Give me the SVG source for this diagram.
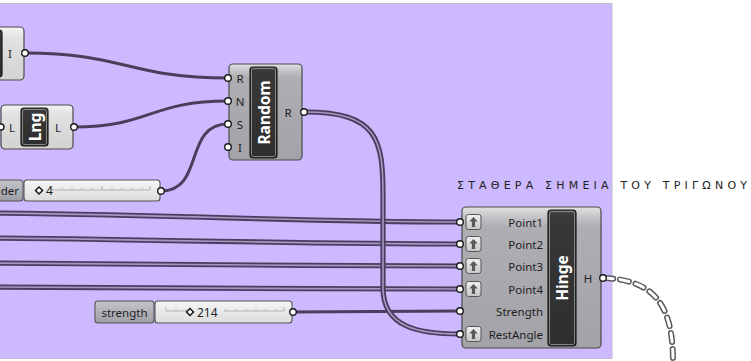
<svg xmlns="http://www.w3.org/2000/svg" width="751" height="361" viewBox="0 0 751 361">
  <style>
    .lbl { font-family: "Noto Sans", "DejaVu Sans", sans-serif; font-size: 11.5px; fill: #1e1e1e; dominant-baseline: central; }
    .ttl { font-family: "Noto Sans", "DejaVu Sans", sans-serif; font-size: 15.5px; font-weight: bold; fill: #ffffff; text-anchor: middle; dominant-baseline: central; }
    .port { fill: #ffffff; stroke: #1a1a1a; stroke-width: 1.4; }
    .wire { fill: none; stroke: #4a3e5c; stroke-width: 3; stroke-linecap: round; }
    .wire2 { fill: none; stroke: #4a3e5c; stroke-width: 5.2; }
    .wire2i { fill: none; stroke: #a596c6; stroke-width: 1.6; }
    .body { fill: url(#gBody); stroke: #4a4a4a; stroke-width: 1.2; }
    .bodyL { fill: url(#gLight); stroke: #4a4a4a; stroke-width: 1.2; }
    .core { fill: url(#gCore); stroke: #1c1c1c; stroke-width: 1.2; }
    .coreHi { fill: none; stroke: #9a9a9a; stroke-width: 0.8; }
    .sl { fill: url(#gSlider); stroke: #555; stroke-width: 1.1; }
    .slTag { fill: url(#gTag); stroke: #555; stroke-width: 1.1; }
    .rail { stroke: #b4b4b4; stroke-width: 1; fill: none; }
    .icon { fill: url(#gIcon); stroke: #555; stroke-width: 1; }
  </style>
  <defs>
    <linearGradient id="gBody" x1="0" y1="0" x2="0" y2="1">
      <stop offset="0" stop-color="#e2e2e4"/>
      <stop offset="0.07" stop-color="#c4c4c8"/>
      <stop offset="0.14" stop-color="#aeaeb3"/>
      <stop offset="1" stop-color="#a2a2a8"/>
    </linearGradient>
    <linearGradient id="gLight" x1="0" y1="0" x2="0" y2="1">
      <stop offset="0" stop-color="#f4f4f4"/>
      <stop offset="0.2" stop-color="#e2e2e2"/>
      <stop offset="1" stop-color="#d2d2d2"/>
    </linearGradient>
    <linearGradient id="gCore" x1="0" y1="0" x2="0" y2="1">
      <stop offset="0" stop-color="#4a4a4a"/>
      <stop offset="0.05" stop-color="#383838"/>
      <stop offset="1" stop-color="#2e2e2e"/>
    </linearGradient>
    <linearGradient id="gSlider" x1="0" y1="0" x2="0" y2="1">
      <stop offset="0" stop-color="#f6f6f6"/>
      <stop offset="1" stop-color="#dcdcdc"/>
    </linearGradient>
    <linearGradient id="gTag" x1="0" y1="0" x2="0" y2="1">
      <stop offset="0" stop-color="#c4c4ca"/>
      <stop offset="1" stop-color="#9e9ea6"/>
    </linearGradient>
    <linearGradient id="gIcon" x1="0" y1="0" x2="0" y2="1">
      <stop offset="0" stop-color="#f0f0f0"/>
      <stop offset="1" stop-color="#c6c6c6"/>
    </linearGradient>
    <!-- up-arrow badge used on Hinge inputs -->
    <g id="arrowIcon">
      <rect class="icon" x="-7.5" y="-7.5" width="15" height="15" rx="2.5"/>
      <path d="M0,-5 L4.2,-0.6 L1.6,-0.6 L1.6,5 L-1.6,5 L-1.6,-0.6 L-4.2,-0.6 Z" fill="#5a5a5a"/>
    </g>
  </defs>

  <!-- canvas -->
  <rect x="0" y="0" width="751" height="361" fill="#ffffff"/>
  <rect x="-2" y="3.5" width="614" height="355" fill="#ccb9ff" stroke="#c3bccf" stroke-width="1"/>

  <!-- connectors -->
  <g id="connectors">
    <path class="wire" d="M25,53 C125,53 128,78 228,78"/>
    <path class="wire" d="M74,127 C150,127 150,101 228,101"/>
    <path class="wire" d="M161,191 C205,191 183,124 228,124"/>
    <path class="wire" d="M293,312 L460,311"/>

    <g>
      <path class="wire2" d="M-10,213 C200,215 300,222 460,222"/>
      <path class="wire2i" d="M-10,213 C200,215 300,222 460,222"/>
      <path class="wire2" d="M-10,238 C200,240 300,244 460,244"/>
      <path class="wire2i" d="M-10,238 C200,240 300,244 460,244"/>
      <path class="wire2" d="M-10,263 C200,264 300,266 460,266"/>
      <path class="wire2i" d="M-10,263 C200,264 300,266 460,266"/>
      <path class="wire2" d="M-10,287 C200,288 300,289 460,289"/>
      <path class="wire2i" d="M-10,287 C200,288 300,289 460,289"/>
      <path class="wire2" d="M305,112 C378,112 383,140 383,195 L383,288 C383,328 420,334 460,334"/>
      <path class="wire2i" d="M305,112 C378,112 383,140 383,195 L383,288 C383,328 420,334 460,334"/>
    </g>

    <!-- empty output wire -->
    <path d="M604,278 C650,280 673,300 673,361" fill="none" stroke="#5a5a5a" stroke-width="6" stroke-dasharray="9 7" stroke-linecap="round"/>
    <path d="M604,278 C650,280 673,300 673,361" fill="none" stroke="#ffffff" stroke-width="3" stroke-dasharray="9 7" stroke-linecap="round"/>
  </g>

  <!-- integer output component (partly off canvas) -->
  <g id="node-int">
    <rect class="body" x="-20" y="27" width="44" height="53" rx="4" style="fill:url(#gLight)"/>
    <rect class="core" x="-30" y="30" width="32" height="47" rx="3"/>
    <text class="lbl" x="10" y="53" text-anchor="middle">I</text>
    <circle class="port" cx="25" cy="53" r="3.3"/>
  </g>

  <!-- list length -->
  <g id="node-lng">
    <rect class="bodyL" x="1" y="105" width="72" height="44" rx="4"/>
    <rect class="core" x="21" y="108" width="27" height="38" rx="3"/>
    <rect class="coreHi" x="22.5" y="109.5" width="24" height="35" rx="2"/>
    <text class="ttl" transform="translate(34.5,127) rotate(-90)">Lng</text>
    <text class="lbl" x="12" y="127" text-anchor="middle">L</text>
    <text class="lbl" x="58" y="127" text-anchor="middle">L</text>
    <circle class="port" cx="1" cy="127" r="3"/>
    <circle class="port" cx="74" cy="127" r="3.3"/>
  </g>

  <!-- seed slider -->
  <g id="node-slider-seed">
    <rect class="slTag" x="-40" y="180" width="63" height="21" rx="3"/>
    <text class="lbl" x="19" y="190.5" text-anchor="end">der</text>
    <rect class="sl" x="24" y="180" width="136" height="21" rx="3"/>
    <path class="rail" d="M52,190 H150 M52,186 V190 M62,188 V190 M72,188 V190 M82,188 V190 M92,188 V190 M102,186 V190 M112,188 V190 M122,188 V190 M132,188 V190 M142,188 V190 M150,186 V190"/>
    <rect x="36.5" y="188" width="5" height="5" transform="rotate(45 39 190.5)" fill="#ffffff" stroke="#111" stroke-width="1.4"/>
    <text class="lbl" x="46" y="190.5" style="font-size:12px">4</text>
    <circle class="port" cx="161" cy="191" r="3.3"/>
  </g>

  <!-- random component -->
  <g id="node-random">
    <rect class="body" x="229" y="64" width="73" height="96" rx="4"/>
    <rect class="core" x="250" y="67" width="27" height="91" rx="3"/>
    <rect class="coreHi" x="251.5" y="68.5" width="24" height="88" rx="2"/>
    <text class="ttl" transform="translate(263.5,112.5) rotate(-90)">Random</text>
    <text class="lbl" x="240" y="78" text-anchor="middle">R</text>
    <text class="lbl" x="240" y="101" text-anchor="middle">N</text>
    <text class="lbl" x="240" y="124" text-anchor="middle">S</text>
    <text class="lbl" x="240" y="147" text-anchor="middle">I</text>
    <text class="lbl" x="288" y="112" text-anchor="middle">R</text>
    <circle class="port" cx="228" cy="78" r="3.3"/>
    <circle class="port" cx="228" cy="101" r="3.3"/>
    <circle class="port" cx="228" cy="124" r="3.3"/>
    <circle class="port" cx="228" cy="147" r="3.3"/>
    <circle class="port" cx="304" cy="112" r="3.3"/>
  </g>

  <!-- strength slider -->
  <g id="node-slider-strength">
    <rect class="slTag" x="95" y="301" width="59" height="22" rx="3"/>
    <text class="lbl" x="124.5" y="312" text-anchor="middle">strength</text>
    <rect class="sl" x="155" y="301" width="137" height="22" rx="3"/>
    <path class="rail" d="M166,311 H186 M224,311 H284 M166,307 V311 M176,309 V311 M186,309 V311 M226,309 V311 M236,309 V311 M246,309 V311 M256,309 V311 M266,309 V311 M276,309 V311 M284,307 V311"/>
    <rect x="187.5" y="309.5" width="5" height="5" transform="rotate(45 190 312)" fill="#ffffff" stroke="#111" stroke-width="1.4"/>
    <text class="lbl" x="197" y="312" style="font-size:12px">214</text>
    <circle class="port" cx="293" cy="312" r="3.3"/>
  </g>

  <!-- hinge component -->
  <g id="node-hinge">
    <rect class="body" x="462" y="207" width="139" height="141" rx="4"/>
    <rect class="core" x="548" y="210" width="28" height="136" rx="3"/>
    <rect class="coreHi" x="549.5" y="211.5" width="25" height="133" rx="2"/>
    <text class="ttl" transform="translate(562,278) rotate(-90)">Hinge</text>
    <use href="#arrowIcon" x="473.5" y="222"/>
    <use href="#arrowIcon" x="473.5" y="244"/>
    <use href="#arrowIcon" x="473.5" y="266"/>
    <use href="#arrowIcon" x="473.5" y="289"/>
    <use href="#arrowIcon" x="473.5" y="334"/>
    <text class="lbl" x="543" y="222" text-anchor="end">Point1</text>
    <text class="lbl" x="543" y="244" text-anchor="end">Point2</text>
    <text class="lbl" x="543" y="266" text-anchor="end">Point3</text>
    <text class="lbl" x="543" y="289" text-anchor="end">Point4</text>
    <text class="lbl" x="543" y="311" text-anchor="end">Strength</text>
    <text class="lbl" x="543" y="334" text-anchor="end">RestAngle</text>
    <text class="lbl" x="588" y="278" text-anchor="middle">H</text>
    <circle class="port" cx="460" cy="222" r="3.3"/>
    <circle class="port" cx="460" cy="244" r="3.3"/>
    <circle class="port" cx="460" cy="266" r="3.3"/>
    <circle class="port" cx="460" cy="289" r="3.3"/>
    <circle class="port" cx="460" cy="311" r="3.3"/>
    <circle class="port" cx="460" cy="334" r="3.3"/>
    <circle class="port" cx="603" cy="278" r="3.3"/>
  </g>

  <!-- annotation -->
  <g id="note">
    <text x="457" y="189" textLength="290" lengthAdjust="spacing" style="font-family:'DejaVu Sans', 'Noto Sans', sans-serif; font-size:11px; fill:#222">ΣΤΑΘΕΡΑ ΣΗΜΕΙΑ ΤΟΥ ΤΡΙΓΩΝΟΥ</text>
  </g>
</svg>
